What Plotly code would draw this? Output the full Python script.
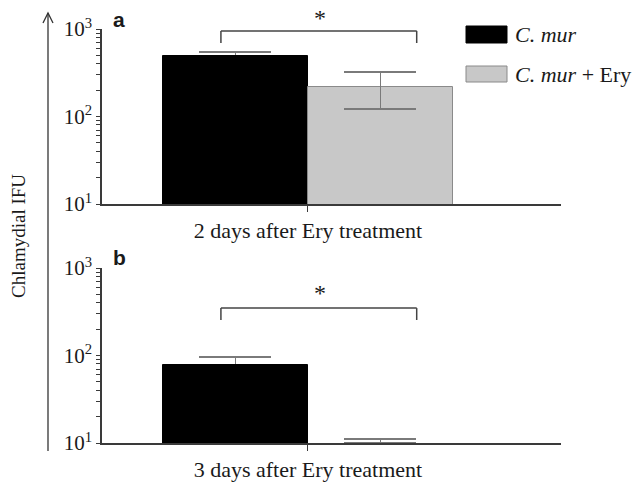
import plotly.graph_objects as go

# ---- data ----
groups = ["C. mur", "C. mur + Ery"]
cat_labels = ["2 days after Ery treatment", "3 days after Ery treatment"]
vals_a = [490, 217]
err_up_a = [56, 106]
err_dn_a = [0, 95]
vals_b = [78, 10]
err_up_b = [18, 1.1]
err_dn_b = [0, 0]
decades = [10, 100, 1000]
decade_text = ["10<sup>1</sup>", "10<sup>2</sup>", "10<sup>3</sup>"]
minor_vals = [m * d for d in (10, 100) for m in range(2, 10)]

W, H = 638, 484
def px(x):
    return x / W
def py(y):
    return 1 - y / H

FONT = "Liberation Serif"
TXT = "#1a1a1a"
AX = "#3a3a3a"
GRAY_FILL = "#c8c8c8"
GRAY_EDGE = "#8a8a8a"
ERR = "#7a7a7a"

bar_x = [-0.5, 0.5]
colors = ["#000000", GRAY_FILL]
edges = ["#000000", GRAY_EDGE]

tick_vals = decades + minor_vals
tick_text = decade_text + [""] * len(minor_vals)

fig = go.Figure()

def add_panel(vals, eu, ed, xa, ya):
    # error bars first (transparent bars), then the visible bars on top
    for i in range(2):
        fig.add_trace(go.Bar(
            x=[bar_x[i]], y=[vals[i]], width=[1.0],
            marker=dict(color="rgba(0,0,0,0)", line=dict(width=0)),
            error_y=dict(type="data", array=[eu[i]], arrayminus=[ed[i]],
                         symmetric=False, color=ERR, thickness=1.5, width=36),
            xaxis=xa, yaxis=ya, showlegend=False, hoverinfo="skip"))
    for i in range(2):
        lw = 1 if vals[i] > 10 else 0
        fig.add_trace(go.Bar(
            x=[bar_x[i]], y=[vals[i]], width=[1.0],
            marker=dict(color=colors[i], line=dict(color=edges[i], width=lw)),
            xaxis=xa, yaxis=ya, showlegend=False, name=groups[i]))
    # gray-bar error bars above the gray bar
    fig.add_trace(go.Bar(
        x=[bar_x[1]], y=[vals[1]], width=[1.0],
        marker=dict(color="rgba(0,0,0,0)", line=dict(width=0)),
        error_y=dict(type="data", array=[eu[1]], arrayminus=[ed[1]],
                     symmetric=False, color=ERR, thickness=1.5, width=36),
        xaxis=xa, yaxis=ya, showlegend=False, hoverinfo="skip"))

add_panel(vals_a, err_up_a, err_dn_a, "x", "y")
add_panel(vals_b, err_up_b, err_dn_b, "x2", "y2")

xdom = [px(102), px(561)]
xr = [-1.42, 1.745]
common_x = dict(range=xr, domain=xdom, showgrid=False, zeroline=False, automargin=False,
                showline=True, linecolor=AX, linewidth=1.5,
                tickmode="array", ticks="outside", ticklen=6, tickcolor=AX,
                tickwidth=1.2,
                tickfont=dict(family=FONT, size=22, color=TXT))
common_y = dict(type="log", range=[1, 3], showgrid=False, zeroline=False, automargin=False,
                showline=True, linecolor=AX, linewidth=1.5,
                tickmode="array", tickvals=tick_vals, ticktext=tick_text,
                ticks="outside", ticklen=4, tickcolor=AX, tickwidth=1.1,
                tickfont=dict(family=FONT, size=21, color=TXT))

fig.update_layout(
    width=W, height=H, margin=dict(l=0, r=0, t=0, b=0, autoexpand=False),
    paper_bgcolor="white", plot_bgcolor="white",
    barmode="overlay", bargap=0,
    xaxis=dict(common_x, anchor="y", tickvals=[0], ticktext=[cat_labels[0]]),
    xaxis2=dict(common_x, anchor="y2", tickvals=[0], ticktext=[cat_labels[1]]),
    yaxis=dict(common_y, anchor="x", domain=[py(204), py(29)]),
    yaxis2=dict(common_y, anchor="x2", domain=[py(443), py(268)]),
)

shapes = []
annos = []
# significance brackets (x in data units, y in axis-domain fraction)
for xa, ya, ytop, ydrop, ystar in [("x", "y", 0.989, 0.92, 1.065), ("x2", "y2", 0.771, 0.703, 0.857)]:
    ln = dict(color="#444", width=1.5)
    yd = ya + " domain"
    shapes.append(dict(type="line", xref=xa, yref=yd, x0=-0.6, x1=-0.6, y0=ydrop, y1=ytop, line=ln))
    shapes.append(dict(type="line", xref=xa, yref=yd, x0=-0.6, x1=0.75, y0=ytop, y1=ytop, line=ln))
    shapes.append(dict(type="line", xref=xa, yref=yd, x0=0.75, x1=0.75, y0=ydrop, y1=ytop, line=ln))
    annos.append(dict(x=0.08, y=ystar, xref=xa, yref=yd, text="*", showarrow=False,
                      xanchor="center", yanchor="middle",
                      font=dict(family=FONT, size=24, color=TXT)))

# panel letters
for lbl, yy in [("a", 19), ("b", 257)]:
    annos.append(dict(x=px(119), y=py(yy), xref="paper", yref="paper", text=f"<b>{lbl}</b>",
                      xanchor="center", yanchor="middle", showarrow=False,
                      font=dict(family="Liberation Sans", size=21, color=TXT)))

# y label and arrow
annos.append(dict(x=px(19), y=py(236), xref="paper", yref="paper", text="Chlamydial IFU",
                  xanchor="center", yanchor="middle",
                  textangle=-90, showarrow=False, font=dict(family=FONT, size=19, color=TXT)))
shapes.append(dict(type="line", xref="paper", yref="paper", x0=px(48), x1=px(48),
                   y0=py(451), y1=py(13), line=dict(color="#333", width=1.3)))
shapes.append(dict(type="path", xref="paper", yref="paper",
                   path=f"M {px(43)} {py(23)} L {px(48)} {py(13)} L {px(53)} {py(23)}",
                   line=dict(color="#333", width=1.3)))

# legend
for (y0, y1, fc, ec, label) in [(26, 43, "#000000", "#000000", "<i>C. mur</i>"),
                                 (66, 82, GRAY_FILL, GRAY_EDGE, "<i>C. mur</i> + Ery")]:
    shapes.append(dict(type="rect", xref="paper", yref="paper",
                       x0=px(466), x1=px(507), y0=py(y1), y1=py(y0),
                       fillcolor=fc, line=dict(color=ec, width=1)))
    annos.append(dict(x=px(513), y=py((y0 + y1) / 2), xref="paper", yref="paper",
                      xanchor="left", yanchor="middle", text=label, showarrow=False,
                      font=dict(family=FONT, size=22, color=TXT)))

fig.update_layout(shapes=shapes, annotations=annos)
fig.write_html("out.html")
